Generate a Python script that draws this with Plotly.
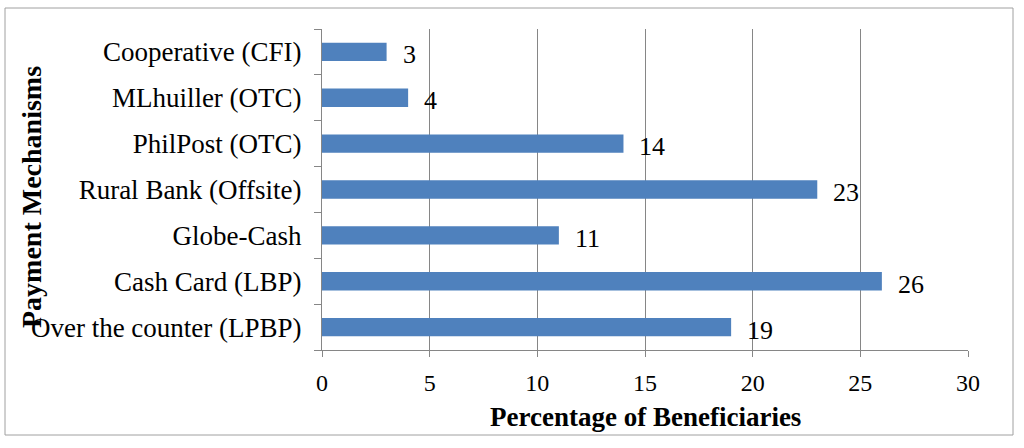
import plotly.graph_objects as go

categories = ["Over the counter (LPBP)", "Cash Card (LBP)", "Globe-Cash",
              "Rural Bank (Offsite)", "PhilPost (OTC)", "MLhuiller (OTC)",
              "Cooperative (CFI)"]
values = [19, 26, 11, 23, 14, 4, 3]
x_ticks = [0, 5, 10, 15, 20, 25, 30]

FONT = "Liberation Serif, Times New Roman, serif"
BAR = "#4F81BD"
GRID = "#868686"

L, R, T, B = 322, 968, 29, 350
W, H = 1024, 448
pw, ph = R - L, B - T

fig = go.Figure()
fig.add_trace(go.Bar(
    y=categories, x=values, orientation="h",
    marker=dict(color=BAR, line=dict(width=0)),
    showlegend=False, hoverinfo="skip",
))

for c, v in zip(categories, values):
    fig.add_annotation(x=v, y=c, text=str(v), showarrow=False,
                       xanchor="left", yanchor="middle", xshift=14, yshift=-3,
                       font=dict(family=FONT, size=26, color="black"))

# axis titles
fig.add_annotation(x=0.5, y=-(417 - B) / ph, xref="paper", yref="paper",
                   text="<b>Percentage of Beneficiaries</b>", showarrow=False,
                   xanchor="center", yanchor="middle",
                   font=dict(family=FONT, size=27, color="black"))
fig.add_annotation(x=-(L - 31) / pw, y=(B - 197) / ph, xref="paper", yref="paper",
                   text="<b>Payment Mechanisms</b>", showarrow=False, textangle=-90,
                   xanchor="center", yanchor="middle",
                   font=dict(family=FONT, size=28, color="black"))

fig.update_layout(
    width=W, height=H,
    margin=dict(l=L, r=W - R, t=T, b=H - B, pad=0),
    paper_bgcolor="white", plot_bgcolor="white",
    bargap=0.6,
    font=dict(family=FONT, size=26, color="black"),
    xaxis=dict(
        range=[0, 30], tickvals=x_ticks, ticktext=[str(t) for t in x_ticks],
        showgrid=True, gridcolor=GRID, gridwidth=1,
        showline=True, linecolor=GRID, linewidth=1,
        ticks="outside", ticklen=6, tickcolor=GRID,
        ticklabelstandoff=5,
        zeroline=False,
        tickfont=dict(family=FONT, size=24, color="black"),
    ),
    yaxis=dict(
        categoryorder="array", categoryarray=categories,
        showline=True, linecolor=GRID, linewidth=1,
        ticks="outside", ticklen=7, tickcolor=GRID, tickson="boundaries",
        ticklabelstandoff=14,
        showgrid=False, zeroline=False,
        tickfont=dict(family=FONT, size=27, color="black"),
    ),
    shapes=[dict(type="rect", xref="paper", yref="paper",
                 x0=-(L - 5) / pw, x1=(1013 - L) / pw,
                 y0=-(435 - B) / ph, y1=(B - 8) / ph,
                 line=dict(color="#a0a0a0", width=1), fillcolor="rgba(0,0,0,0)",
                 layer="below")],
)

fig.write_html("out.html", config={"displayModeBar": False},
               post_script="document.body.style.margin='0';")
